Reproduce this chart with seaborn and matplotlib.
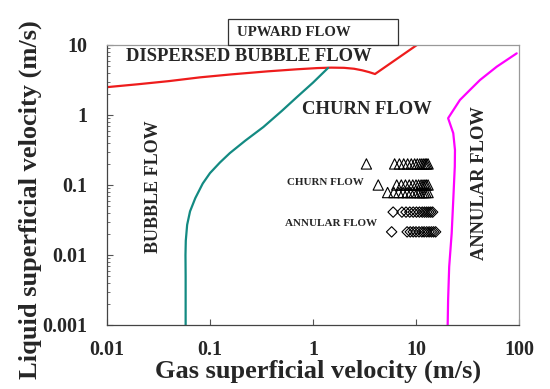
import numpy as np
import matplotlib
matplotlib.use("Agg")
import matplotlib.pyplot as plt
import matplotlib.ticker as mticker
from matplotlib.patches import Rectangle
import seaborn as sns

# transition boundaries
red_x = [0.01, 0.02, 0.04, 0.08, 0.16, 0.36, 0.7, 1.1, 1.5, 2.0, 2.5, 3.0, 3.5, 4.0, 10.2]
red_y = [2.5, 2.75, 3.05, 3.45, 3.8, 4.2, 4.5, 4.68, 4.75, 4.72, 4.58, 4.35, 4.1, 3.85, 10.0]

teal_x = [0.058, 0.058, 0.0578, 0.0582, 0.06, 0.064, 0.072, 0.085, 0.1, 0.125,
          0.156, 0.22, 0.33, 0.5, 0.7, 1.0, 1.4]
teal_y = [0.001, 0.005, 0.01, 0.016, 0.027, 0.042, 0.065, 0.105, 0.148, 0.21,
          0.286, 0.43, 0.674, 1.15, 1.81, 2.9, 4.7]

mag_x = [20.3, 20.5, 21.0, 22.2, 23.0, 23.8, 23.9, 23.0, 20.5, 26.7, 33.4, 41.8, 60.8, 95.0]
mag_y = [0.001, 0.0023, 0.0068, 0.0204, 0.061, 0.183, 0.316, 0.55, 0.9, 1.64, 2.28, 3.16, 4.9, 7.6]

# experimental points
tri_x = ([3.3, 6.2, 6.9, 7.6, 8.3, 9.0, 9.7, 10.3, 10.9, 11.4, 11.9, 12.3, 12.7, 13.1]
         + [4.3, 6.5, 7.2, 7.9, 8.6, 9.3, 10.0, 10.6, 11.2, 11.7, 12.2, 12.6, 13.1]
         + [5.3, 6.1, 6.8, 7.5, 8.2, 8.9, 9.6, 10.3, 10.9, 11.5, 12.0, 12.5, 13.1])
tri_y = [0.2] * 14 + [0.1] * 13 + [0.078] * 13

dia_x = ([6.0, 7.3, 8.0, 8.7, 9.4, 10.1, 10.8, 11.5, 12.1, 12.7, 13.3, 13.9, 14.5]
         + [5.8, 8.2, 8.8, 9.4, 10.0, 10.7, 11.4, 12.0, 12.7, 13.4, 14.1, 14.8, 15.5])
dia_y = [0.041] * 13 + [0.0214] * 13

sns.set_style("ticks")
plt.rcParams["font.family"] = ["Liberation Serif", "DejaVu Serif"]
plt.rcParams["font.weight"] = "bold"

fig = plt.figure(figsize=(5.5, 3.89), dpi=100)
ax = fig.add_axes([107 / 550, 64 / 389, 412 / 550, 280 / 389])
ax.set_xscale("log")
ax.set_yscale("log")

sns.lineplot(x=red_x, y=red_y, sort=False, estimator=None, color="#ee1c1c", lw=1.6, ax=ax)
sns.lineplot(x=teal_x, y=teal_y, sort=False, estimator=None, color="#138a82", lw=1.6, ax=ax)
sns.lineplot(x=mag_x, y=mag_y, sort=False, estimator=None, color="#ff00ff", lw=1.6, ax=ax)

sns.scatterplot(x=tri_x, y=tri_y, marker="^", s=55, facecolor="none",
                edgecolor="black", linewidth=0.8, ax=ax)
sns.scatterplot(x=dia_x, y=dia_y, marker="D", s=28, facecolor="none",
                edgecolor="black", linewidth=0.8, ax=ax)

ax.set_xlim(0.01, 100)
ax.set_ylim(0.001, 10)
ax.xaxis.set_major_locator(mticker.FixedLocator([0.01, 0.1, 1, 10, 100]))
ax.xaxis.set_minor_locator(mticker.NullLocator())
ax.yaxis.set_major_locator(mticker.FixedLocator([0.001, 0.01, 0.1, 1, 10]))
ax.yaxis.set_minor_locator(mticker.LogLocator(base=10, subs=np.arange(2, 10)))
fmt = mticker.FuncFormatter(lambda v, p: "%g" % v)
ax.xaxis.set_major_formatter(fmt)
ax.yaxis.set_major_formatter(fmt)
ax.yaxis.set_minor_formatter(mticker.NullFormatter())

ax.tick_params(axis="x", which="major", direction="in", length=4, width=0.8,
               color="#555555", pad=11, labelsize=14.5)
ax.tick_params(axis="y", which="major", direction="in", length=4, width=0.8,
               color="#555555", pad=14, labelsize=14.5)
ax.tick_params(axis="y", which="minor", direction="in", length=2.5, width=0.6,
               color="#555555")
for lab in ax.get_xticklabels() + ax.get_yticklabels():
    lab.set_fontweight("bold")

for side in ["left", "bottom"]:
    ax.spines[side].set_color("#444444")
    ax.spines[side].set_linewidth(0.9)
for side in ["top", "right"]:
    ax.spines[side].set_color("#999999")
    ax.spines[side].set_linewidth(0.9)

# region labels
ax.text(0.0153, 6.96, "DISPERSED BUBBLE FLOW", fontsize=13.4, fontweight="bold",
        ha="left", va="center")
ax.text(0.78, 1.18, "CHURN FLOW", fontsize=13.4, fontweight="bold", ha="left", va="center")
ax.text(0.028, 0.094, "BUBBLE FLOW", fontsize=13, fontweight="bold", rotation=90,
        ha="center", va="center")
ax.text(41.8, 0.107, "ANNULAR FLOW", fontsize=13.3, fontweight="bold", rotation=90,
        ha="center", va="center")
ax.text(0.56, 0.11, "CHURN FLOW", fontsize=7.9, fontweight="bold", ha="left", va="center")
ax.text(0.54, 0.0286, "ANNULAR FLOW", fontsize=8, fontweight="bold", ha="left", va="center")

# "UPWARD FLOW" box above the axes
fig.patches.append(Rectangle((228 / 550, 1 - 45 / 389), 170 / 550, 26 / 389,
                             transform=fig.transFigure, fill=False,
                             edgecolor="#333333", linewidth=0.9))
fig.text(237 / 550, 1 - 32 / 389, "UPWARD FLOW", fontsize=10.6, fontweight="bold",
         ha="left", va="center")

fig.text(318 / 550, 1 - 378 / 389, "Gas superficial velocity (m/s)", fontsize=19,
         fontweight="bold", ha="center", va="baseline")
fig.text(30 / 550, 1 - 200 / 389, "Liquid superficial velocity (m/s)", fontsize=19,
         fontweight="bold", ha="center", va="center", rotation=90)

fig.savefig("out.png", dpi=100)
